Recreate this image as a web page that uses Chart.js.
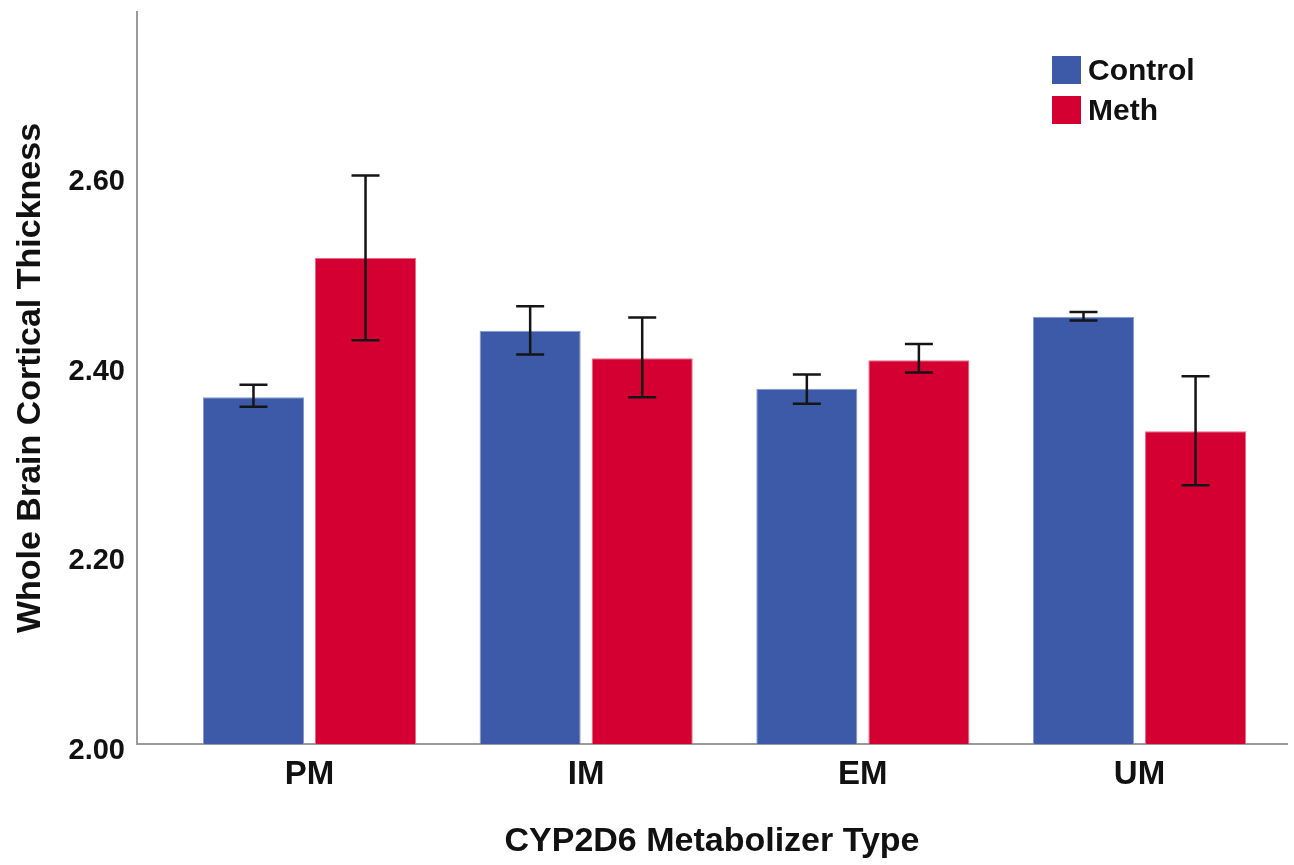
<!DOCTYPE html>
<html>
<head>
<meta charset="utf-8">
<script src="https://cdn.jsdelivr.net/npm/chart.js@4/dist/chart.umd.min.js"></script>
<style>
  html, body { margin: 0; padding: 0; background: #fff; }
  #wrap { width: 1294px; height: 865px; }
</style>
</head>
<body>
<div id="wrap"><canvas id="myChart" width="1294" height="865"></canvas></div>
<script>
// data
const categories = ["PM", "IM", "EM", "UM"];
const controlMean = [2.366, 2.436, 2.375, 2.451];
const controlLow  = [2.356, 2.411, 2.359, 2.447];
const controlHigh = [2.379, 2.462, 2.390, 2.456];
const methMean = [2.513, 2.407, 2.405, 2.330];
const methLow  = [2.426, 2.366, 2.392, 2.273];
const methHigh = [2.600, 2.450, 2.422, 2.388];
const yTicks = [2.0, 2.2, 2.4, 2.6];

const fontFam = '"Liberation Sans", Arial, sans-serif';

// error bars drawn with the chart's scales
const errorBars = {
  id: "errorBars",
  afterDatasetsDraw(chart) {
    const ctx = chart.ctx;
    const y = chart.scales.y;
    const ranges = [[controlLow, controlHigh], [methLow, methHigh]];
    ctx.save();
    ctx.strokeStyle = "#151515";
    ctx.lineWidth = 2.5;
    chart.data.datasets.forEach((ds, di) => {
      const meta = chart.getDatasetMeta(di);
      meta.data.forEach((bar, i) => {
        const x = bar.x;
        const top = y.getPixelForValue(ranges[di][1][i]);
        const bot = y.getPixelForValue(ranges[di][0][i]);
        ctx.beginPath();
        ctx.moveTo(x, top); ctx.lineTo(x, bot);
        ctx.moveTo(x - 14, top); ctx.lineTo(x + 14, top);
        ctx.moveTo(x - 14, bot); ctx.lineTo(x + 14, bot);
        ctx.stroke();
      });
    });
    ctx.restore();
  }
};

// legend in the top right corner
const cornerLegend = {
  id: "cornerLegend",
  afterDraw(chart) {
    const ctx = chart.ctx;
    ctx.save();
    ctx.font = "bold 30px " + fontFam;
    ctx.textBaseline = "middle";
    chart.data.datasets.forEach((ds, i) => {
      const top = 56 + i * 40;
      ctx.fillStyle = ds.backgroundColor;
      ctx.fillRect(1052, top, 29, 28);
      ctx.fillStyle = "#111";
      ctx.fillText(ds.label, 1088, top + 16);
    });
    ctx.restore();
  }
};

var ctx = document.getElementById("myChart").getContext("2d");
var chart = new Chart(ctx, {
  type: "bar",
  data: {
    datasets: [
      {
        label: "Control",
        backgroundColor: "#3d5aa8",
        borderColor: "#8798d0",
        borderWidth: 1,
        data: controlMean.map((v, i) => ({ x: i, y: v }))
      },
      {
        label: "Meth",
        backgroundColor: "#d50032",
        borderColor: "#e86a86",
        borderWidth: 1,
        data: methMean.map((v, i) => ({ x: i, y: v }))
      }
    ]
  },
  options: {
    responsive: false,
    animation: false,
    categoryPercentage: 0.81,
    barPercentage: 0.902,
    layout: { padding: { top: 12, right: 7, left: 0, bottom: 0 } },
    plugins: { legend: { display: false }, tooltip: { enabled: false } },
    scales: {
      x: {
        type: "linear",
        min: -0.6235,
        max: 3.533,
        offset: false,
        grid: { display: false, drawTicks: false },
        border: { color: "#9a9a9a", width: 2 },
        afterBuildTicks(scale) {
          scale.ticks = categories.map((c, i) => ({ value: i }));
        },
        afterFit(scale) {
          scale.height = 121;
          scale.paddingLeft = 0;
          scale.paddingRight = 0;
        },
        ticks: {
          padding: 11,
          color: "#111",
          font: { family: fontFam, size: 33, weight: "bold" },
          callback: (v) => categories[v]
        },
        title: {
          display: true,
          text: "CYP2D6 Metabolizer Type",
          color: "#111",
          font: { family: fontFam, size: 34, weight: "bold" },
          padding: { top: 0, bottom: 3 }
        }
      },
      y: {
        min: 2.0,
        max: 2.7725,
        grid: { display: false, drawTicks: false },
        border: { color: "#9a9a9a", width: 2 },
        afterBuildTicks(scale) {
          scale.ticks = yTicks.map((v) => ({ value: v }));
        },
        afterFit(scale) {
          scale.width = 137;
          scale.paddingTop = 0;
          scale.paddingBottom = 0;
        },
        ticks: {
          padding: 12,
          labelOffset: 7,
          color: "#111",
          font: { family: fontFam, size: 29, weight: "bold" },
          callback: (v) => v.toFixed(2)
        },
        title: {
          display: true,
          text: "Whole Brain Cortical Thickness",
          color: "#111",
          font: { family: fontFam, size: 34, weight: "bold" },
          padding: { top: 10, bottom: 0 }
        }
      }
    }
  },
  plugins: [errorBars, cornerLegend]
});
</script>
</body>
</html>
